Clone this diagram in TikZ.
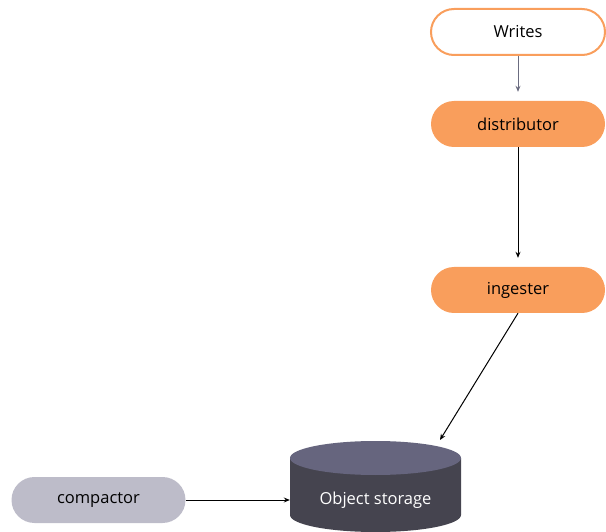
\documentclass[tikz,border=0pt]{standalone}
\usepackage{fontspec}
\setmainfont{Open Sans}
\usetikzlibrary{arrows.meta}
\definecolor{svcorange}{HTML}{F99E5C}
\definecolor{svcgrey}{HTML}{BDBCC9}
\definecolor{stortop}{HTML}{66657E}
\definecolor{storbody}{HTML}{45444F}
\definecolor{linkgrey}{HTML}{6B6C80}
\begin{document}
\begin{tikzpicture}
  [x=1pt,y=-1pt,
   every node/.style={rounded corners=23pt,minimum width=174pt,minimum height=46pt,inner sep=0pt,font=\fontsize{16.5}{19}\selectfont},
   svc/.style={fill=svcorange},
   link/.style={line width=1pt,-{Stealth[length=6pt,width=5pt]}}]
\useasboundingbox (0,0) rectangle (606,532);
% services
  \node (writes) at (518,32) [draw=svcorange,line width=2pt,fill=white] {Writes};
  \node (distributor) at (518,124) [svc] {distributor};
  \node (ingester) at (518,290) [svc] {ingester};
  \node (compactor) at (98.5,500) [fill=svcgrey] {compactor};

  % object storage (cylinder)
  \fill[storbody] (290,458) -- (290,515) arc[start angle=180,end angle=360,x radius=85.5,y radius=-17] -- (461,458) -- cycle;
  \fill[stortop] (375.5,458) ellipse[x radius=85.5,y radius=17];
  \node (storage) at (375.5,500) [minimum width=171pt,minimum height=0pt,text=white] {Object storage};
  \coordinate (stortopedge) at (440,440);

  % links
  \draw[link,linkgrey,shorten >=9pt] (writes) -- (distributor);
  \draw[link,shorten >=9pt] (distributor) -- (ingester);
  \draw[link] (ingester.south) -- (stortopedge);
  \draw[link] (compactor) -- (storage);
\end{tikzpicture}
\end{document}
